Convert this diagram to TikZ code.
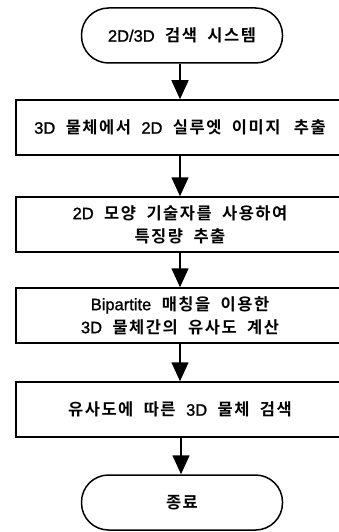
\documentclass[tikz,border=0pt]{standalone}
\usepackage{fontspec}
\setmainfont{Noto Sans CJK KR}
\newfontfamily\hg{Noto Sans CJK KR Bold}[LetterSpace=9, WordSpace=2.0]
\newfontfamily\lt{Liberation Sans}[Scale=1.0, FakeBold=1.2]
\usetikzlibrary{arrows.meta}
\tikzset{
  base/.style={draw=black, line width=1.5pt, font=\hg\fontsize{16.5}{23}\selectfont, align=center, inner sep=0pt},
  procbox/.style={base, minimum width=328pt, minimum height=55pt},
  term/.style={base, minimum width=201pt, minimum height=55pt, rounded corners=27pt},
  flow/.style={line width=1.5pt, -{Triangle[length=19pt,width=17pt]}}
}
\begin{document}
\begin{tikzpicture}[x=1pt,y=-1pt]
\useasboundingbox (0,0) rectangle (339,532);
\clip (0,0) rectangle (339,532);
\node[term] (start) at (182,35.5) {{\lt 2D/3D} 검색 시스템};
\node[procbox] (b1) at (180,127.5) {{\lt 3D} 물체에서 {\lt 2D} 실루엣 이미지 \hspace{3pt}추출};
\node[procbox] (b2) at (180,224.5) {{\lt 2D} 모양 기술자를 사용하여\\특징량 추출};
\node[procbox] (b3) at (180,315.5) {{\lt Bipartite} 매칭을 이용한\\{\lt 3D} 물체간의 유사도 계산};
\node[procbox] (b4) at (180,409.5) {유사도에 따른 {\lt 3D} 물체 검색};
\node[term] (end) at (182,502.5) {종료};
\draw[flow] (start.south -| 180,0) -- (b1.north);
\draw[flow] (b1.south) -- (b2.north);
\draw[flow] (b2.south) -- (b3.north);
\draw[flow] (b3.south) -- (b4.north);
\draw[flow] (b4.south -| 181,0) -- (end.north -| 181,0);
\end{tikzpicture}
\end{document}
